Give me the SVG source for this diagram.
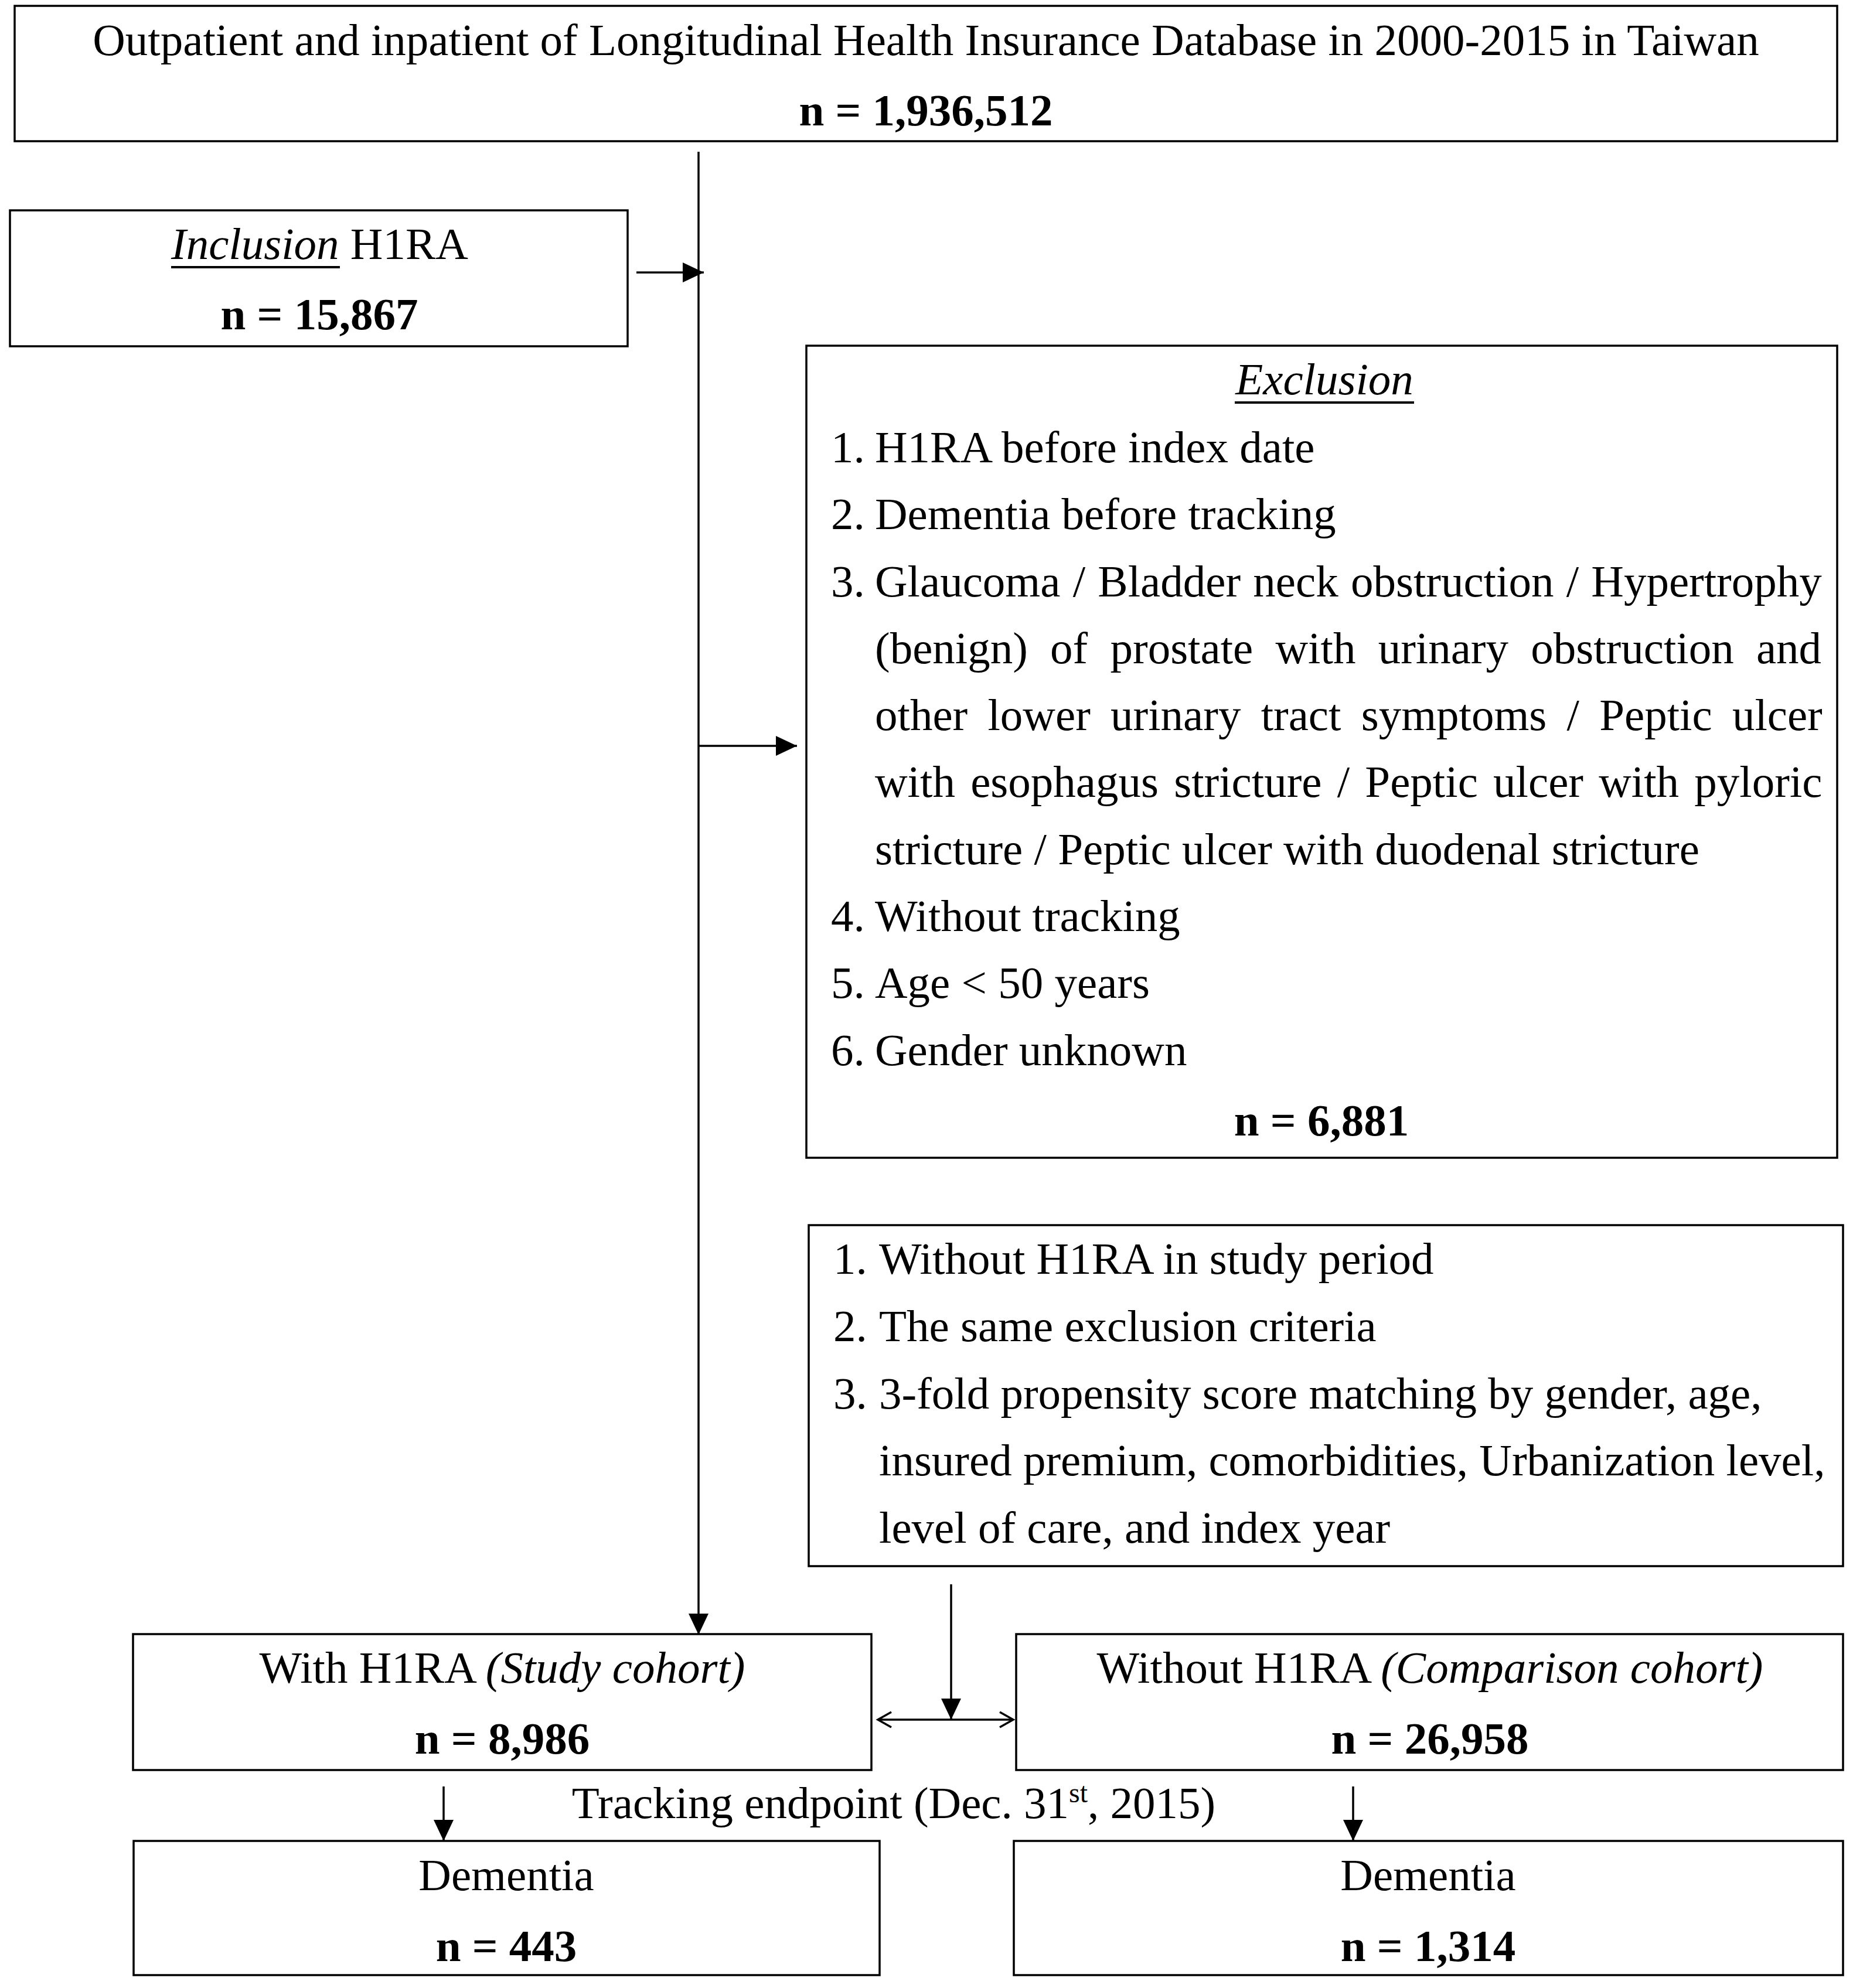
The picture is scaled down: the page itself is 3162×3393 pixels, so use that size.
<svg xmlns="http://www.w3.org/2000/svg" width="3162" height="3393" viewBox="0 0 3162 3393">
<style>
.box{fill:#fff;stroke:#000;stroke-width:3.5}
.t{font-family:"Liberation Serif","Times New Roman",serif;font-size:77px;fill:#000}
.c{text-anchor:middle}
.b{font-weight:bold}
.i{font-style:italic}
.ln{stroke:#000;stroke-width:3.5;fill:none}
.ul{stroke:#000;stroke-width:4}
</style>
<defs>
<marker id="ah" markerUnits="userSpaceOnUse" markerWidth="38" markerHeight="36" refX="36" refY="17" orient="auto">
<path d="M0,0 L36,17 L0,34 z" fill="#000"/>
</marker>
<marker id="oa" markerUnits="userSpaceOnUse" markerWidth="30" markerHeight="32" refX="25" refY="15" orient="auto-start-reverse">
<path d="M2,2 L25,15 L2,28" fill="none" stroke="#000" stroke-width="3.5"/>
</marker>
</defs>
<rect width="3162" height="3393" fill="#fff"/>

<g id="connectors">
<line class="ln" x1="1192" y1="259" x2="1192" y2="2790" marker-end="url(#ah)"/>
<line class="ln" x1="1086" y1="465" x2="1201" y2="465" marker-end="url(#ah)"/>
<line class="ln" x1="1192" y1="1273" x2="1360" y2="1273" marker-end="url(#ah)"/>
<line class="ln" x1="1623" y1="2704" x2="1623" y2="2935" marker-end="url(#ah)"/>
<line class="ln" x1="1498" y1="2935" x2="1729" y2="2935" marker-start="url(#oa)" marker-end="url(#oa)"/>
<line class="ln" x1="757" y1="3049" x2="757" y2="3142" marker-end="url(#ah)"/>
<line class="ln" x1="2309" y1="3049" x2="2309" y2="3142" marker-end="url(#ah)"/>
</g>

<g id="source">
<rect class="box" x="25" y="10" width="3110" height="231"/>
<text class="t c" x="1580" y="94">Outpatient and inpatient of Longitudinal Health Insurance Database in 2000-2015 in Taiwan</text>
<text class="t c b" x="1580" y="214">n = 1,936,512</text>
</g>

<g id="inclusion">
<rect class="box" x="17" y="359" width="1054" height="232"/>
<text class="t" x="292" y="442"><tspan class="i">Inclusion</tspan> H1RA</text>
<line class="ul" x1="292" y1="456" x2="580" y2="456"/>
<text class="t c b" x="545" y="562">n = 15,867</text>
</g>

<g id="exclusion">
<rect class="box" x="1376" y="590" width="1759" height="1386"/>
<text class="t c i" x="2260" y="673">Exclusion</text>
<line class="ul" x1="2107" y1="687" x2="2413" y2="687"/>
<text class="t" x="1418" y="789">1.</text>
<text class="t" x="1493" y="789">H1RA before index date</text>
<text class="t" x="1418" y="903">2.</text>
<text class="t" x="1493" y="903">Dementia before tracking</text>
<text class="t" x="1418" y="1018">3.</text>
<text class="t" x="1493" y="1018" style="word-spacing:2px">Glaucoma / Bladder neck obstruction / Hypertrophy</text>
<text class="t" x="1493" y="1132" style="word-spacing:19px">(benign) of prostate with urinary obstruction and</text>
<text class="t" x="1493" y="1246" style="word-spacing:15px">other lower urinary tract symptoms / Peptic ulcer</text>
<text class="t" x="1493" y="1360" style="word-spacing:7px">with esophagus stricture / Peptic ulcer with pyloric</text>
<text class="t" x="1493" y="1475">stricture / Peptic ulcer with duodenal stricture</text>
<text class="t" x="1418" y="1589">4.</text>
<text class="t" x="1493" y="1589">Without tracking</text>
<text class="t" x="1418" y="1703">5.</text>
<text class="t" x="1493" y="1703">Age &lt; 50 years</text>
<text class="t" x="1418" y="1818">6.</text>
<text class="t" x="1493" y="1818">Gender unknown</text>
<text class="t c b" x="2255" y="1938">n = 6,881</text>
</g>

<g id="matching">
<rect class="box" x="1380" y="2091" width="1765" height="582"/>
<text class="t" x="1422" y="2174">1.</text>
<text class="t" x="1500" y="2174">Without H1RA in study period</text>
<text class="t" x="1422" y="2289">2.</text>
<text class="t" x="1500" y="2289">The same exclusion criteria</text>
<text class="t" x="1422" y="2404">3.</text>
<text class="t" x="1500" y="2404">3-fold propensity score matching by gender, age,</text>
<text class="t" x="1500" y="2518">insured premium, comorbidities, Urbanization level,</text>
<text class="t" x="1500" y="2633">level of care, and index year</text>
</g>

<g id="study-cohort">
<rect class="box" x="227" y="2789" width="1260" height="232"/>
<text class="t c" x="857" y="2872">With H1RA <tspan class="i">(Study cohort)</tspan></text>
<text class="t c b" x="857" y="2993">n = 8,986</text>
</g>

<g id="comparison-cohort">
<rect class="box" x="1734" y="2789" width="1411" height="232"/>
<text class="t c" x="2440" y="2872">Without H1RA <tspan class="i">(Comparison cohort)</tspan></text>
<text class="t c b" x="2440" y="2993">n = 26,958</text>
</g>

<g id="tracking-label">
<text class="t c" x="1525" y="3103">Tracking endpoint (Dec. 31<tspan dy="-27" font-size="48">st</tspan><tspan dy="27">, 2015)</tspan></text>
</g>

<g id="dementia-study">
<rect class="box" x="228" y="3142" width="1273" height="229"/>
<text class="t c" x="864" y="3226">Dementia</text>
<text class="t c b" x="864" y="3347">n = 443</text>
</g>

<g id="dementia-comparison">
<rect class="box" x="1730" y="3142" width="1415" height="229"/>
<text class="t c" x="2437" y="3226">Dementia</text>
<text class="t c b" x="2437" y="3347">n = 1,314</text>
</g>
</svg>
